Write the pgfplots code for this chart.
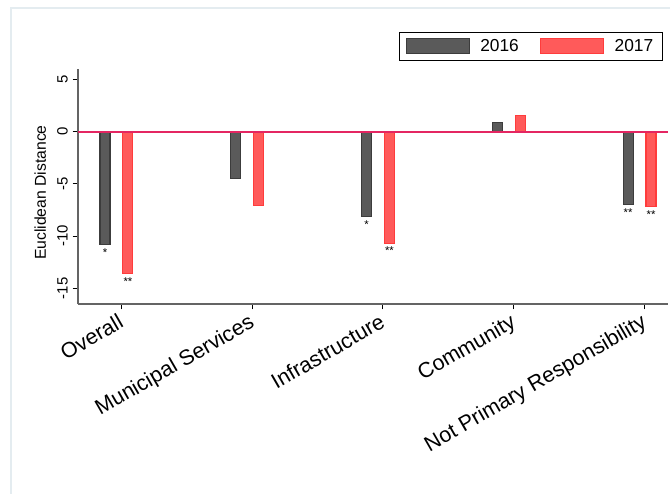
\documentclass[border=0pt]{standalone}
\usepackage{fontspec}
\setmainfont{Liberation Sans}
\usepackage{pgfplots}
\pgfplotsset{compat=1.18}
\definecolor{darkbar}{RGB}{90,90,90}
\definecolor{darkedge}{RGB}{60,60,60}
\definecolor{redbar}{RGB}{255,90,90}
\definecolor{rededge}{RGB}{255,60,60}
\definecolor{crimsonline}{RGB}{228,38,98}
\definecolor{framecol}{RGB}{228,236,240}
\definecolor{axiscol}{RGB}{100,100,100}
\begin{document}
\begin{tikzpicture}
\useasboundingbox (0pt,0pt) rectangle (502.5pt,-369.75pt);
\fill[white] (0pt,0pt) rectangle (502.5pt,-369.75pt);
\draw[framecol, line width=1.2pt] (8.25pt,-375pt) -- (8.25pt,-6pt) -- (510pt,-6pt);
\begin{axis}[
  at={(58.5pt,-228pt)}, anchor=south west,
  scale only axis, width=442.5pt, height=176.25pt,
  xmin=0.669, xmax=5.181, ymin=-16.5, ymax=6,
  axis x line*=bottom, axis y line*=left,
  axis line style={axiscol, line width=0.9pt},
  tick align=outside, major tick length=4pt,
  tick style={black, line width=0.6pt},
  xtick={1,2,3,4,5},
  xticklabels={Overall, Municipal Services, Infrastructure, Community, Not Primary Responsibility},
  xticklabel style={font=\fontsize{16.1}{18}\selectfont, rotate=30, anchor=north east, inner sep=1pt, xshift=-3pt, yshift=0.5pt},
  ytick={-15,-10,-5,0,5},
  yticklabel style={font=\fontsize{11.2}{13}\selectfont, rotate=90, anchor=south, inner sep=2pt, yshift=1.5pt},
  /pgf/number format/assume math mode=true,
  ylabel={Euclidean Distance},
  ylabel style={font=\fontsize{11.8}{14}\selectfont, at={(axis description cs:-0.064,0.474)}, anchor=center},
  ybar, bar width=7.5pt,
  point meta=explicit symbolic,
  nodes near coords,
  every node near coord/.append style={anchor=north, font=\fontsize{8.5}{10}\selectfont, yshift=-2.5pt, inner sep=0pt, color=black, text=black},
  legend columns=2,
  legend style={at={(axis description cs:0.9915,1.157)}, anchor=north east, draw=black, line width=0.7pt, fill=white, inner xsep=5pt, inner ysep=3pt, font=\fontsize{13}{15}\selectfont, /tikz/every even column/.append style={column sep=14pt}},
  legend image code/.code={\draw[#1, line width=0.8pt] (0pt,-5.6pt) rectangle (47pt,5.6pt); \path (53pt,0pt);},
]
\addplot[fill=darkbar, draw=darkedge, line width=0.8pt, bar shift=-12.2pt] coordinates {
  (1,-10.8) [*]
  (2,-4.48) []
  (3,-8.14) [*]
  (4,0.91) []
  (5,-6.97) [**]
};
\addlegendentry{2016}
\addplot[fill=redbar, draw=rededge, line width=0.8pt, bar shift=5pt] coordinates {
  (1,-13.57) [**]
  (2,-7.09) []
  (3,-10.69) [**]
  (4,1.58) []
  (5,-7.16) [**]
};
\addlegendentry{2017}
\draw[color=crimsonline, line width=1.3pt] (axis cs:0.669,0) -- (axis cs:5.181,0);
\end{axis}
\end{tikzpicture}
\end{document}
